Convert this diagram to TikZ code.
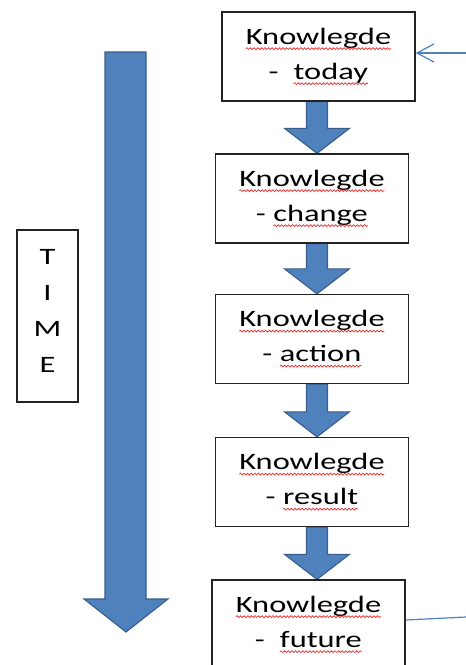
\documentclass[tikz,border=0pt]{standalone}
\usepackage{fontspec}
\newfontfamily\boxfont[FakeStretch=1.38]{Carlito}
\usetikzlibrary{calc,decorations.pathmorphing,arrows.meta,backgrounds}
\definecolor{arrowblue}{RGB}{79,129,189}
\definecolor{arrowedge}{RGB}{56,93,138}
\definecolor{frame}{RGB}{35,35,35}
\definecolor{spellred}{RGB}{235,40,40}

% word with a red wavy underline
\newcommand\spellmark[1]{\tikz[baseline=(sw.base)]{%
  \node[inner sep=0pt,outer sep=0pt,minimum width=0pt,minimum height=0pt,
        draw=none,fill=none] (sw) {#1};
  \draw[spellred,line width=0.7pt,decorate,
        decoration={snake,amplitude=0.9pt,segment length=3.6pt}]
    ([yshift=-4.2pt]sw.base west) -- ([yshift=-4.2pt]sw.base east);}}

% block arrow from the bottom of one box to the top of the next
\newcommand\flowarrow[2]{%
  \draw[blockarrow]
    ($(ax |- #1.south)+(-10.5,0)$) -- ($(ax |- #2.north)+(-10.5,-25)$)
    -- ($(ax |- #2.north)+(-32.5,-25)$) -- (ax |- #2.north)
    -- ($(ax |- #2.north)+(32.5,-25)$) -- ($(ax |- #2.north)+(10.5,-25)$)
    -- ($(ax |- #1.south)+(10.5,0)$) -- cycle;}

\tikzset{
  kbox/.style={draw=frame,line width=1.3pt,fill=white,
    minimum width=193pt,minimum height=89pt,inner sep=0pt,align=center,
    font=\boxfont\fontsize{23.5}{35}\selectfont},
  timebox/.style={draw=frame,line width=1.3pt,fill=white,
    minimum width=61pt,minimum height=172pt,inner sep=0pt},
  timetext/.style={inner sep=0pt,align=center,
    font=\boxfont\fontsize{23.5}{35.7}\selectfont},
  blockarrow/.style={fill=arrowblue,draw=arrowedge,line width=1.1pt,line join=miter},
  thinblue/.style={draw=arrowblue,line width=1.2pt}
}

\newcommand\gdp{\vphantom{g}}

\begin{document}
\begin{tikzpicture}[x=1pt,y=-1pt]
  \useasboundingbox (0,0) rectangle (466,665);
  \clip (0,0) rectangle (466,665);

  % chain of knowledge boxes
  \node[kbox] (b1) at (318.5,56.5) {\spellmark{Knowlegde}\\-\ \ \spellmark{today}\gdp};
  \node[kbox] (b2) at (312,198.5) {\spellmark{Knowlegde}\\- \spellmark{change}\gdp};
  \node[kbox] (b3) at (312,339) {\spellmark{Knowlegde}\\- \spellmark{action}\gdp};
  \node[kbox] (b4) at (312,482) {\spellmark{Knowlegde}\\- \spellmark{result}\gdp};
  \node[kbox] (b5) at (308.5,624.5) {\spellmark{Knowlegde}\\-\ \ \spellmark{future}\gdp};

  % axis for the block arrows
  \coordinate (ax) at (317,0);
  \begin{scope}[on background layer]
    \flowarrow{b1}{b2}
    \flowarrow{b2}{b3}
    \flowarrow{b3}{b4}
    \flowarrow{b4}{b5}
  \end{scope}

  % time axis
  \draw[blockarrow] (105,52) -- (146,52) -- (146,599) -- (168,599)
    -- (126,632) -- (84,599) -- (105,599) -- cycle;
  \node[timebox] (time) at (47.5,316) {};
  \node[timetext] (timelbl) at (47.5,311) {T\\I\\M\\E};

  % incoming and outgoing links
  \coordinate (inA) at (466,53);
  \draw[thinblue,-{Straight Barb[length=17pt,width=18pt,line width=1.2pt]}]
    (inA) -- (b1.east |- inA);
  \coordinate (outB) at (466,617);
  \draw[thinblue] ($(b5.east)+(0,-4.5)$) -- (outB);
\end{tikzpicture}
\end{document}
